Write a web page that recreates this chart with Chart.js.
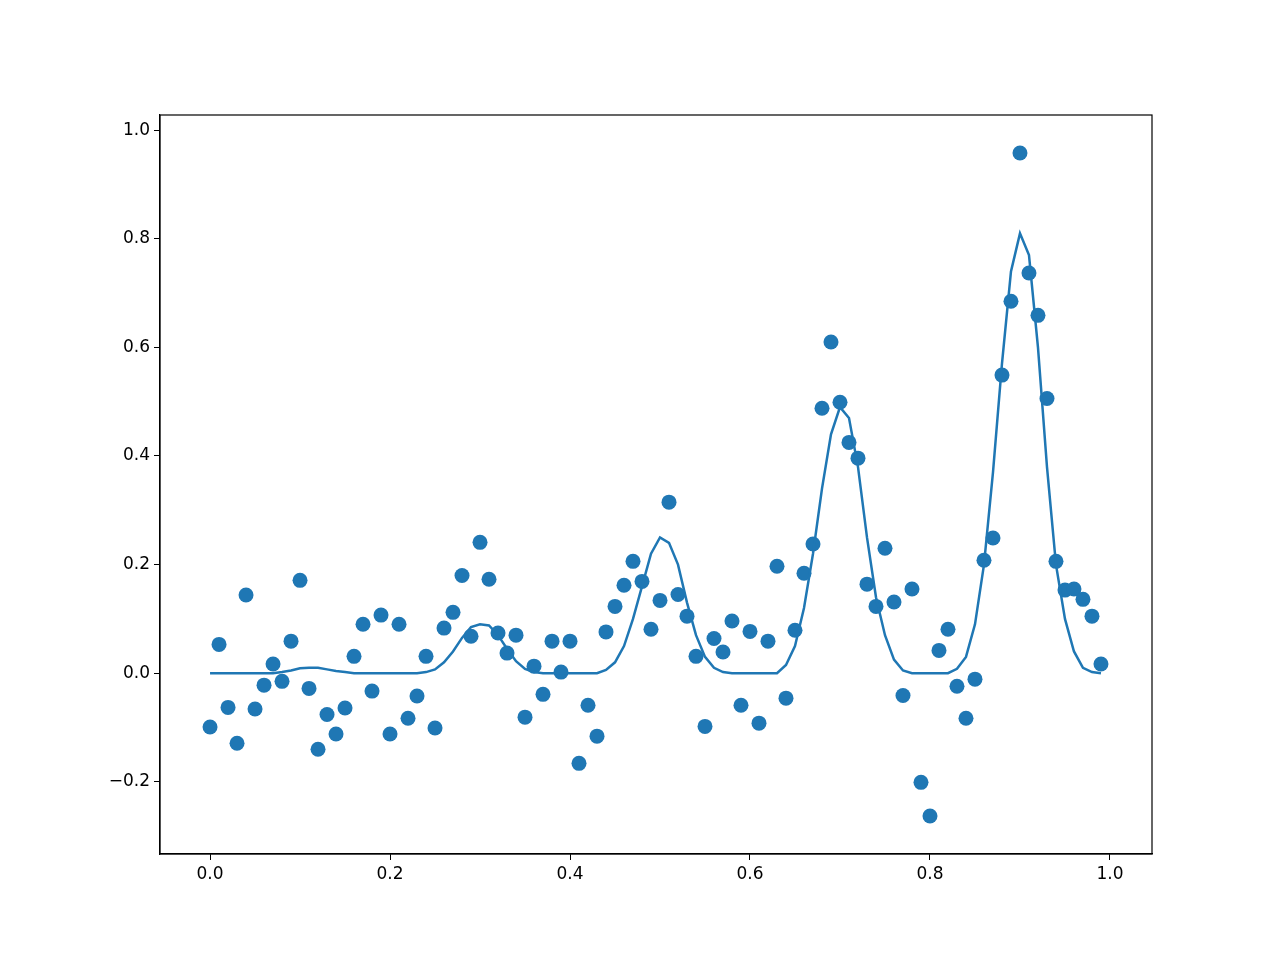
<!DOCTYPE html>
<html><head><meta charset="utf-8">
<script src="https://cdn.jsdelivr.net/npm/chart.js@4/dist/chart.umd.min.js"></script>
<style>body{margin:0;background:#fff}</style></head>
<body><canvas id="c" width="1280" height="960"></canvas>
<script>
const xs = Array.from({length:100},(_,i)=>+(i/100).toFixed(2));
const scatterY = [-0.099,0.053,-0.063,-0.129,0.144,-0.066,-0.022,0.017,-0.015,0.059,
0.171,-0.028,-0.14,-0.076,-0.112,-0.064,0.031,0.09,-0.033,0.107,
-0.112,0.09,-0.083,-0.042,0.031,-0.101,0.083,0.112,0.18,0.068,
0.241,0.173,0.074,0.037,0.07,-0.081,0.013,-0.039,0.059,0.002,
0.059,-0.166,-0.059,-0.116,0.076,0.123,0.162,0.206,0.169,0.081,
0.134,0.315,0.145,0.105,0.031,-0.098,0.064,0.039,0.096,-0.059,
0.077,-0.092,0.059,0.197,-0.046,0.079,0.184,0.238,0.488,0.61,
0.499,0.425,0.396,0.164,0.123,0.23,0.131,-0.041,0.155,-0.201,
-0.263,0.042,0.081,-0.024,-0.083,-0.011,0.208,0.249,0.549,0.685,
0.958,0.737,0.659,0.506,0.206,0.153,0.155,0.136,0.105,0.017];
const lineY = [0,0,0,0,0,0,0,0,0.002,0.005,
0.009,0.01,0.01,0.007,0.004,0.002,0,0,0,0,
0,0,0,0,0.002,0.007,0.02,0.04,0.065,0.085,
0.09,0.088,0.07,0.045,0.022,0.008,0.002,0,0,0,
0,0,0,0,0.006,0.02,0.05,0.1,0.16,0.22,
0.25,0.24,0.2,0.13,0.07,0.03,0.01,0.002,0,0,
0,0,0,0,0.015,0.05,0.12,0.22,0.34,0.44,
0.49,0.47,0.38,0.25,0.14,0.07,0.025,0.005,0,0,
0,0,0,0.008,0.03,0.09,0.2,0.37,0.57,0.74,
0.81,0.77,0.6,0.38,0.2,0.1,0.04,0.01,0.002,0];
const xTicks=[0,0.2,0.4,0.6,0.8,1.0];
const yTicks=[-0.2,0,0.2,0.4,0.6,0.8,1.0];
const C='#1f77b4';
const fmt=v=>(v<0?'\u2212':'')+Math.abs(v).toFixed(1);
Chart.defaults.font.family='DejaVu Sans';
Chart.defaults.font.size=17;
Chart.defaults.color='#000';
new Chart(document.getElementById('c'),{
 data:{datasets:[
  {type:'line',data:xs.map((x,i)=>({x,y:lineY[i]})),borderColor:C,borderWidth:2.5,pointRadius:0,tension:0},
  {type:'scatter',data:xs.map((x,i)=>({x,y:scatterY[i]})),backgroundColor:C,borderColor:C,pointRadius:7.5,borderWidth:0}
 ]},
 options:{responsive:false,animation:false,
  layout:{padding:{left:0,top:115,right:128,bottom:0}},
  plugins:{legend:{display:false},tooltip:{enabled:false}},
  scales:{
   x:{type:'linear',min:-0.0556,max:1.0467,
     afterBuildTicks:s=>{s.ticks=xTicks.map(v=>({value:v}));},
     afterFit:s=>{s.height=106;},
     ticks:{callback:fmt,padding:4,maxRotation:0},
     grid:{drawOnChartArea:false,tickLength:6,color:'#000'},border:{color:'#000',width:1.2}},
   y:{type:'linear',min:-0.333,max:1.028,
     afterBuildTicks:s=>{s.ticks=yTicks.map(v=>({value:v}));},
     afterFit:s=>{s.width=160;},
     ticks:{callback:fmt,padding:4},
     grid:{drawOnChartArea:false,tickLength:6,color:'#000'},border:{color:'#000',width:1.2}}
  }},
 plugins:[{id:'frame',afterDraw(c){const a=c.chartArea,g=c.ctx;g.save();g.strokeStyle='#000';g.lineWidth=1.2;g.strokeRect(a.left,a.top,a.right-a.left,a.bottom-a.top);g.restore();}}]
});
</script></body></html>
